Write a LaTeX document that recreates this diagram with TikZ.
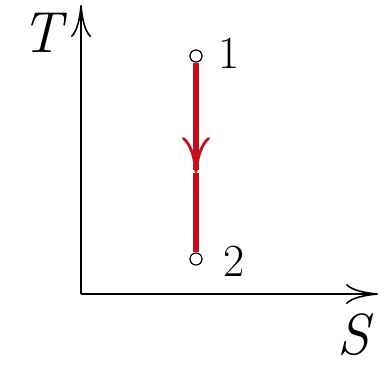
\documentclass[tikz,border=0pt]{standalone}
\usepackage{xcolor}
\usepackage{tikz}
\usetikzlibrary{arrows.meta,positioning,calc}
\definecolor{procred}{RGB}{195,16,30}
\tikzset{
  axisline/.style={line width=1pt,-{To[length=16pt,width=10pt,line width=0.8pt]}},
  statept/.style={circle,draw,fill=white,line width=0.6pt,inner sep=0pt,minimum size=6pt},
  procline/.style={procred,line width=3pt},
  biglabel/.style={font=\fontsize{29}{31}\selectfont\itshape,inner sep=0.5pt},
  numlabel/.style={font=\fontsize{23}{24}\selectfont}
}

\begin{document}
\begin{tikzpicture}[x=0.5pt,y=-0.5pt]
  \useasboundingbox (0,0) rectangle (384,366);
  % 坐标轴
  \coordinate (O) at (81,294);
  \coordinate (Ttop) at (81,5);
  \coordinate (Send) at (378,294);
  \draw[axisline] (O) -- (Ttop);
  \draw[axisline] (O) -- (Send);
  \node[biglabel] (Tlab) at (42,33) {T};
  \node[biglabel] (Slab) at (353,335) {S};
  % 过程 1 -> 2
  \coordinate (mid) at (196,173);
  \node[statept] (p1) at (196,56) {};
  \node[statept] (p2) at (196,259) {};
  \draw[procline,-{To[length=18pt,width=14pt,line width=1.4pt]}] (p1) -- (mid);
  \draw[procline] (mid) -- (p2);
  \node[numlabel] (l1) at (229,53) {1};
  \node[numlabel] (l2) at (234,261) {2};
\end{tikzpicture}
\end{document}
